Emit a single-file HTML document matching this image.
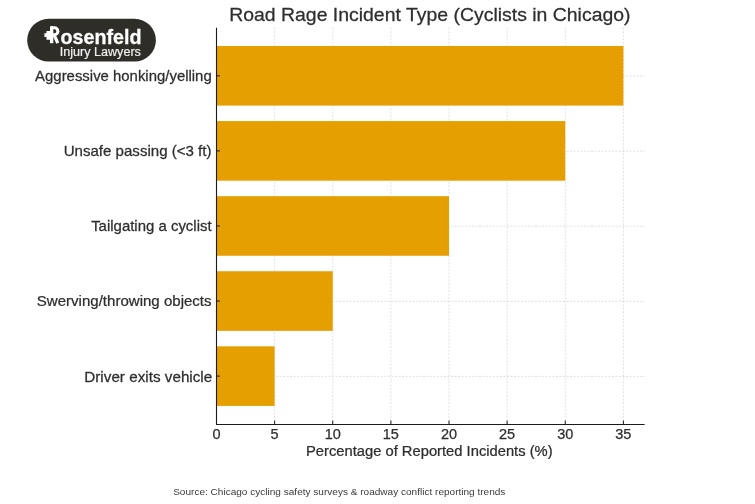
<!DOCTYPE html>
<html><head><meta charset="utf-8"><style>
html,body{margin:0;padding:0;background:#fff;width:755px;height:504px;overflow:hidden}
svg{display:block;will-change:transform}
text{font-family:"Liberation Sans",sans-serif}
.g{stroke:#d4d4d4;stroke-width:0.7;stroke-dasharray:2 1.5}
.s{stroke:#1a1a1a;stroke-width:1.1}
.t{stroke:#1a1a1a;stroke-width:1}
.tk{font-size:14.5px;fill:#2e2e2e;stroke:#2e2e2e;stroke-width:0.25}
</style></head><body>
<svg width="755" height="504" viewBox="0 0 755 504">
<rect width="755" height="504" fill="#fff"/>
<line x1="274.62" y1="27.65" x2="274.62" y2="424.05" class="g"/>
<line x1="332.75" y1="27.65" x2="332.75" y2="424.05" class="g"/>
<line x1="390.88" y1="27.65" x2="390.88" y2="424.05" class="g"/>
<line x1="449.00" y1="27.65" x2="449.00" y2="424.05" class="g"/>
<line x1="507.12" y1="27.65" x2="507.12" y2="424.05" class="g"/>
<line x1="565.25" y1="27.65" x2="565.25" y2="424.05" class="g"/>
<line x1="623.38" y1="27.65" x2="623.38" y2="424.05" class="g"/>
<line x1="216.5" y1="76.10" x2="644.6" y2="76.10" class="g"/>
<line x1="216.5" y1="151.18" x2="644.6" y2="151.18" class="g"/>
<line x1="216.5" y1="226.26" x2="644.6" y2="226.26" class="g"/>
<line x1="216.5" y1="301.34" x2="644.6" y2="301.34" class="g"/>
<line x1="216.5" y1="376.42" x2="644.6" y2="376.42" class="g"/>
<rect x="216.5" y="46.00" width="406.88" height="59.60" fill="#E69F00"/>
<rect x="216.5" y="121.08" width="348.75" height="59.60" fill="#E69F00"/>
<rect x="216.5" y="196.16" width="232.50" height="59.60" fill="#E69F00"/>
<rect x="216.5" y="271.24" width="116.25" height="59.60" fill="#E69F00"/>
<rect x="216.5" y="346.32" width="58.12" height="59.60" fill="#E69F00"/>
<line x1="216.5" y1="27.65" x2="216.5" y2="424.55" class="s"/>
<line x1="216.0" y1="424.5" x2="644.6" y2="424.5" class="s"/>
<line x1="216.5" y1="75.80" x2="220.0" y2="75.80" class="t"/>
<line x1="216.5" y1="150.88" x2="220.0" y2="150.88" class="t"/>
<line x1="216.5" y1="225.96" x2="220.0" y2="225.96" class="t"/>
<line x1="216.5" y1="301.04" x2="220.0" y2="301.04" class="t"/>
<line x1="216.5" y1="376.12" x2="220.0" y2="376.12" class="t"/>
<line x1="216.50" y1="424.05" x2="216.50" y2="420.55" class="t"/>
<line x1="274.62" y1="424.05" x2="274.62" y2="420.55" class="t"/>
<line x1="332.75" y1="424.05" x2="332.75" y2="420.55" class="t"/>
<line x1="390.88" y1="424.05" x2="390.88" y2="420.55" class="t"/>
<line x1="449.00" y1="424.05" x2="449.00" y2="420.55" class="t"/>
<line x1="507.12" y1="424.05" x2="507.12" y2="420.55" class="t"/>
<line x1="565.25" y1="424.05" x2="565.25" y2="420.55" class="t"/>
<line x1="623.38" y1="424.05" x2="623.38" y2="420.55" class="t"/>
<text x="216.50" y="438.8" text-anchor="middle" class="tk">0</text>
<text x="274.62" y="438.8" text-anchor="middle" class="tk">5</text>
<text x="332.75" y="438.8" text-anchor="middle" class="tk">10</text>
<text x="390.88" y="438.8" text-anchor="middle" class="tk">15</text>
<text x="449.00" y="438.8" text-anchor="middle" class="tk">20</text>
<text x="507.12" y="438.8" text-anchor="middle" class="tk">25</text>
<text x="565.25" y="438.8" text-anchor="middle" class="tk">30</text>
<text x="623.38" y="438.8" text-anchor="middle" class="tk">35</text>
<rect x="27.2" y="18.8" width="128.7" height="42.8" rx="21.4" ry="21.4" fill="#2e2d28"/>
<path d="M44.4 33.3 H50.5 V36.9 H44.4 Z M46.5 31 H50 V39.7 H46.5 Z" fill="#fff"/>
<rect x="50" y="26.3" width="3.3" height="16.9" fill="#fff"/>
<path d="M51 27.75 H54.4 A3.5 3.5 0 0 1 54.4 34.75 H51" fill="none" stroke="#fff" stroke-width="3.1"/>
<path d="M54.2 35.2 L57.8 43.2" fill="none" stroke="#fff" stroke-width="3.2"/>
<text transform="translate(229.133 21.1) scale(1.1111 1.0000)" x="0" y="0" style="font-size:17.5px;font-weight:normal" fill="#2e2e2e" stroke="#2e2e2e" stroke-width="0.25">Road Rage Incident Type (Cyclists in Chicago)</text>
<text transform="translate(35.100 81.1) scale(1.0296 1.0000)" x="0" y="0" style="font-size:14.5px;font-weight:normal" fill="#2e2e2e" stroke="#2e2e2e" stroke-width="0.25">Aggressive honking/yelling</text>
<text transform="translate(63.660 155.9) scale(1.0399 1.0000)" x="0" y="0" style="font-size:14.5px;font-weight:normal" fill="#2e2e2e" stroke="#2e2e2e" stroke-width="0.25">Unsafe passing (&lt;3 ft)</text>
<text transform="translate(91.142 231.1) scale(1.0318 1.0000)" x="0" y="0" style="font-size:14.5px;font-weight:normal" fill="#2e2e2e" stroke="#2e2e2e" stroke-width="0.25">Tailgating a cyclist</text>
<text transform="translate(36.821 306.2) scale(1.0386 1.0000)" x="0" y="0" style="font-size:14.5px;font-weight:normal" fill="#2e2e2e" stroke="#2e2e2e" stroke-width="0.25">Swerving/throwing objects</text>
<text transform="translate(84.285 381.5) scale(1.0522 1.0000)" x="0" y="0" style="font-size:14.5px;font-weight:normal" fill="#2e2e2e" stroke="#2e2e2e" stroke-width="0.25">Driver exits vehicle</text>
<text transform="translate(306.028 455.8) scale(1.0175 1.0000)" x="0" y="0" style="font-size:14.5px;font-weight:normal" fill="#2e2e2e" stroke="#2e2e2e" stroke-width="0.25">Percentage of Reported Incidents (%)</text>
<text transform="translate(173.165 494.7) scale(1.0710 1.0000)" x="0" y="0" style="font-size:9.4px;font-weight:normal" fill="#3a3a3a">Source: Chicago cycling safety surveys &amp; roadway conflict reporting trends</text>
<text transform="translate(60.513 43.7) scale(0.9159 0.9484)" x="0" y="0" style="font-size:21.5px;font-weight:bold" fill="#ffffff" stroke="#ffffff" stroke-width="0.3">osenfeld</text>
<text transform="translate(59.679 55.8) scale(0.9767 1.0000)" x="0" y="0" style="font-size:12.9px;font-weight:normal" fill="#f0f0f0" stroke="#f0f0f0" stroke-width="0.2">Injury Lawyers</text>
</svg>
</body></html>
